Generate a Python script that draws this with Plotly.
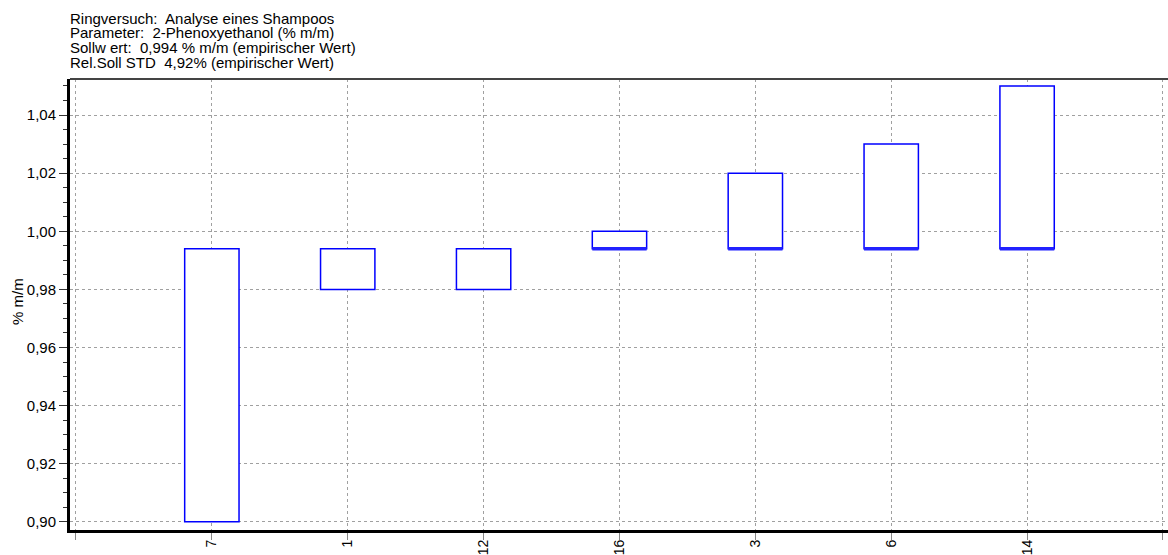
import plotly.graph_objects as go

# Interlaboratory comparison: reported values per laboratory vs. assigned value
labs = ["7", "1", "12", "16", "3", "6", "14"]
values = [0.900, 0.980, 0.980, 1.000, 1.020, 1.030, 1.050]
target = 0.994
y_ticks = [0.90, 0.92, 0.94, 0.96, 0.98, 1.00, 1.02, 1.04]

header = [
    "Ringversuch:  Analyse eines Shampoos",
    "Parameter:  2-Phenoxyethanol (% m/m)",
    "Sollw ert:  0,994 % m/m (empirischer Wert)",
    "Rel.Soll STD  4,92% (empirischer Wert)",
]

positions = list(range(1, len(labs) + 1))
bar_width = 0.4

W, H = 1168, 555
L, R, T, B = 70, 0, 79, 25
plot_h = H - T - B
plot_w = W - L - R

fig = go.Figure()
fig.add_bar(
    x=positions,
    y=[v - target for v in values],
    base=target,
    width=bar_width,
    marker=dict(color="white", line=dict(color="#0000FF", width=1.5)),
    showlegend=False,
    hoverinfo="skip",
)

# Heavier base edge on bars that rise above the assigned value
base_x, base_y = [], []
for p, v in zip(positions, values):
    if v > target:
        base_x += [p - bar_width / 2, p + bar_width / 2, None]
        base_y += [target, target, None]
fig.add_scatter(
    x=base_x, y=base_y, mode="lines",
    line=dict(color="#2222FF", width=3.5),
    showlegend=False, hoverinfo="skip",
)

font = "Liberation Sans, Arial, sans-serif"
grid = dict(showgrid=True, gridcolor="#a0a0a0", griddash="dot", gridwidth=1)

fig.update_layout(
    width=W,
    height=H,
    margin=dict(l=L, r=R, t=T, b=B, autoexpand=False),
    paper_bgcolor="white",
    plot_bgcolor="white",
    separators=",.",
    font=dict(family=font, size=15, color="black"),
    xaxis=dict(
        range=[-0.044, 8.037],
        tickmode="array",
        tickvals=list(range(0, len(labs) + 2)),
        ticktext=[""] + labs + [""],
        tickangle=-90,
        tickfont=dict(size=14),
        ticks="outside",
        ticklen=7,
        tickcolor="#888888",
        ticklabelstandoff=-6,
        showline=True,
        linecolor="black",
        linewidth=3,
        zeroline=False,
        **grid,
    ),
    yaxis=dict(
        range=[0.8972, 1.0524],
        tickmode="array",
        tickvals=y_ticks,
        tickformat=".2f",
        ticks="outside",
        ticklen=8,
        tickcolor="#333333",
        minor=dict(dtick=0.005, tick0=0.9, ticks="outside", ticklen=4,
                   tickcolor="#333333", showgrid=False),
        showline=True,
        linecolor="black",
        linewidth=3,
        zeroline=False,
        **grid,
    ),
    shapes=[
        dict(type="line", xref="paper", yref="paper", x0=0, x1=1, y0=1, y1=1,
             line=dict(color="#444444", width=2)),
    ],
)

# Header block above the plot
for i, line in enumerate(header):
    yc = 18 + i * 14.7
    fig.add_annotation(
        text=line, xref="paper", yref="paper",
        x=-0.002, y=(H - B - yc) / plot_h,
        xanchor="left", yanchor="middle", showarrow=False,
        font=dict(family=font, size=15, color="black"),
    )

# Y axis title
fig.add_annotation(
    text="% m/m", xref="paper", yref="paper",
    x=(17 - L) / plot_w, y=(H - B - 302) / plot_h,
    xanchor="center", yanchor="middle", textangle=-90, showarrow=False,
    font=dict(family=font, size=15, color="black"),
)

fig.write_html("out.html")
